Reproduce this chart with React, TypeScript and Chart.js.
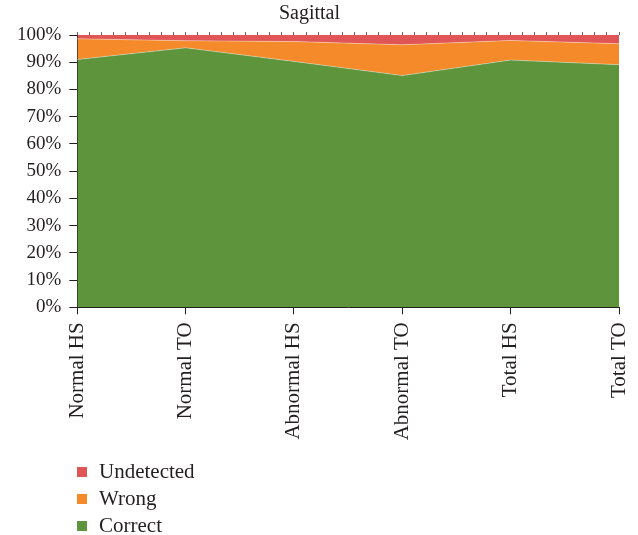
import React, { useEffect, useRef } from "react";
import { Chart, registerables } from "chart.js";

Chart.register(...registerables);

const categories = ["Normal HS", "Normal TO", "Abnormal HS", "Abnormal TO", "Total HS", "Total TO"];
const correctValues = [91.0, 95.3, 90.3, 85.1, 90.8, 89.1];
const wrongValues = [7.6, 2.6, 7.3, 11.3, 7.2, 7.7];
const undetectedValues = [1.4, 2.1, 2.4, 3.6, 2.0, 3.2];
const yTicks = [0, 10, 20, 30, 40, 50, 60, 70, 80, 90, 100];

const GREEN = "#5e943c";
const ORANGE = "#f48a2a";
const RED = "#e05555";
const TEXT = "#231f20";
const FONT = "'Liberation Serif', 'DejaVu Serif', serif";

const legendItems = [
  { label: "Undetected", color: RED },
  { label: "Wrong", color: ORANGE },
  { label: "Correct", color: GREEN },
];

export default function App() {
  const ref = useRef<HTMLCanvasElement | null>(null);

  useEffect(() => {
    if (!ref.current) return;
    const edge = "rgba(255,255,255,0.35)";
    const chart = new Chart(ref.current, {
      type: "line",
      data: {
        labels: categories,
        datasets: [
          { label: "Correct", data: correctValues, backgroundColor: GREEN, borderColor: edge, borderWidth: 1, fill: "origin", pointRadius: 0, tension: 0 },
          { label: "Wrong", data: wrongValues, backgroundColor: ORANGE, borderColor: edge, borderWidth: 1, fill: "-1", pointRadius: 0, tension: 0 },
          { label: "Undetected", data: undetectedValues, backgroundColor: RED, borderColor: "rgba(0,0,0,0)", borderWidth: 0, fill: "-1", pointRadius: 0, tension: 0 },
        ],
      },
      options: {
        animation: false,
        responsive: false,
        maintainAspectRatio: false,
        layout: { padding: { left: 0, right: 19, top: 0, bottom: 0 } },
        plugins: {
          legend: { display: false },
          tooltip: { enabled: false },
          title: {
            display: true,
            text: "Sagittal",
            color: TEXT,
            font: { family: FONT, size: 20, weight: "normal" },
            padding: { top: 2, bottom: 6 },
          },
        },
        scales: {
          x: {
            type: "category",
            offset: false,
            grid: { drawOnChartArea: false, tickLength: 7, color: TEXT, tickColor: TEXT },
            border: { display: true, color: TEXT, width: 1 },
            ticks: { color: TEXT, font: { family: FONT, size: 21 }, maxRotation: 90, minRotation: 90, padding: 8, autoSkip: false },
            afterFit: (s: any) => {
              s.height = 535 - 307.3;
              s.paddingLeft = 0;
              s.paddingRight = 0;
            },
          },
          xTop: {
            type: "linear",
            position: "top",
            min: 0,
            max: 45,
            grid: { drawOnChartArea: false, tickLength: 3, color: "#7a5a5a", tickColor: "#7a5a5a" },
            border: { display: false },
            ticks: { display: false, stepSize: 1 },
            afterFit: (s: any) => {
              s.paddingLeft = 0;
              s.paddingRight = 0;
            },
          },
          y: {
            stacked: true,
            min: 0,
            max: 100,
            grid: { drawOnChartArea: false, tickLength: 8, color: TEXT, tickColor: TEXT },
            border: { display: true, color: TEXT, width: 1 },
            ticks: { color: TEXT, font: { family: FONT, size: 19 }, padding: 8, stepSize: 10, callback: (v: any) => v + "%" },
            afterBuildTicks: (s: any) => { s.ticks = yTicks.map((v) => ({ value: v })); },
            afterFit: (s: any) => { s.width = 77.3; },
          },
        },
      },
    });
    return () => chart.destroy();
  }, []);

  return (
    <div style={{ position: "absolute", left: 0, top: 0, width: 638, height: 535, background: "#fff" }}>
      <canvas ref={ref} width={638} height={535} style={{ display: "block", width: 638, height: 535 }} />
      {legendItems.map((it, i) => (
        <div
          key={it.label}
          style={{
            position: "absolute",
            left: 77,
            top: 458 + i * 27,
            height: 27,
            display: "flex",
            alignItems: "center",
            fontFamily: FONT,
            fontSize: 21,
            color: TEXT,
            whiteSpace: "nowrap",
          }}
        >
          <span style={{ display: "inline-block", width: 10, height: 10, background: it.color, marginRight: 12 }} />
          <span>{it.label}</span>
        </div>
      ))}
    </div>
  );
}
